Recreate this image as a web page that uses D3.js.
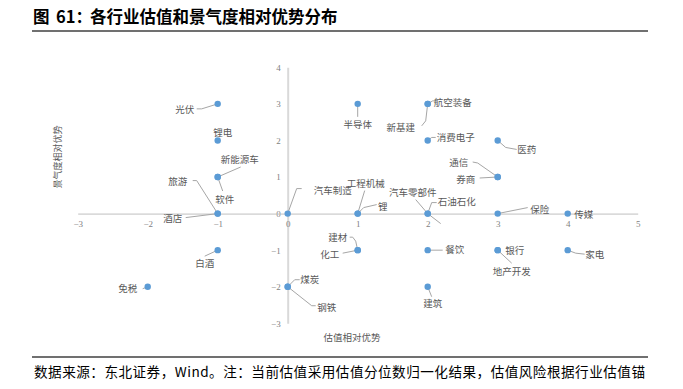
<!DOCTYPE html>
<html>
<head>
<meta charset="utf-8">
<script src="https://cdn.jsdelivr.net/npm/d3@7"></script>
<style>
  body { margin: 0; background: #fff; }
  svg { display: block; font-family: "Noto Sans CJK SC", sans-serif; }
  .tick text { font-family: "Liberation Serif", serif; fill: #7f7f7f; font-size: 9px; }
</style>
</head>
<body>
<svg id="chart" width="683" height="389"></svg>
<script>
// industries, valuation advantage (x) and prosperity advantage (y)
const industries = ["光伏", "锂电", "新能源车", "软件", "旅游", "酒店", "汽车制造", "工程机械", "锂",
  "汽车零部件", "石油石化", "半导体", "航空装备", "新基建", "消费电子", "医药", "通信", "券商", "保险",
  "传媒", "建材", "化工", "餐饮", "银行", "地产开发", "家电", "煤炭", "钢铁", "建筑", "白酒", "免税"];
const valuation = [-1, -1, -1, -1, -1, -1, 0, 1, 1, 2, 2, 1, 2, 2, 2, 3, 3, 3, 3, 4, 1, 1, 2, 3, 3, 4, 0, 0, 2, -1, -2];
const prosperity = [3, 2, 1, 1, 0, 0, 0, 0, 0, 0, 0, 3, 3, 3, 2, 2, 1, 1, 0, 0, -1, -1, -1, -1, -1, -1, -2, -2, -2, -1, -2];
const xTicks = [-3, -2, -1, 0, 1, 2, 3, 4, 5];
const yTicks = [-3, -2, -1, 0, 1, 2, 3, 4];

// label placement (px from the point) and leader line vertices
const labelOffsets = [[-33, 5], [5, -8], [22, -18], [7, 22], [-40, -33], [-45, 4], [45, -24], [8, -31], [25, -8],
  [-15, -22], [29, -13], [0, 20], [25, -2], [-27, 23], [28, -3], [29, 9], [-39, -15], [-32, 2], [42, -5],
  [16, 0], [-20, -13], [-28, 4], [27, -1], [17, 0], [14, 21], [27, 4], [22, -8], [39, 20], [5, 16], [-13, 13], [-20, 1]];
const leaders = [
  [[0, 0], [-16, 5], [-21, 5]], null, [[0, 0], [23, -10]], [[0, 0], [5, 14]],
  [[0, 0], [-21, -33], [-25, -33]], [[0, 0], [-32, 4]], [[0, 0], [9, -25], [14, -25]], [[0, 0], [7, -23]],
  [[0, 0], [6, -6], [19, -9]], [[13, 10], [0, 0], [-12, -14]], [[0, 0], [4, -11], [9, -11]], [[0, 0], [0, 13]],
  [[0, 0], [5, -3], [9, -3]], [[0, 0], [-2, 17], [-6, 22]], [[0, 0], [4, -3], [8, -3]], [[0, 0], [8, 7], [19, 9]],
  [[0, 0], [-20, -14], [-25, -15]], [[0, 0], [-18, 1]], [[0, 0], [30, -6]], null,
  [[0, 0], [-2, -9], [-5, -13], [-8, -13]], [[0, 0], [-15, 3]], [[0, 0], [15, 0]], null, [[0, 0], [14, 13]],
  [[0, 0], [8, 3], [17, 4]], [[0, 0], [7, -7], [12, -7]], [[0, 0], [24, 19], [28, 19]], [[0, 0], [4, 10]],
  [[0, 0], [-13, 6]], [[0, 0], [-5, 2]]
];

const svg = d3.select("#chart");

// title and rules
const title = svg.append("text").attr("y", 23)
  .attr("font-size", 16.5).attr("font-weight", "bold").attr("fill", "#000");
title.append("tspan").attr("x", 33).text("图");
title.append("tspan").attr("x", 56).text("61：");
title.append("tspan").attr("x", 90).text("各行业估值和景气度相对优势分布");
svg.append("line").attr("x1", 32).attr("x2", 648).attr("y1", 31).attr("y2", 31)
  .attr("stroke", "#404040").attr("stroke-width", 1.3);
svg.append("line").attr("x1", 32).attr("x2", 648).attr("y1", 357).attr("y2", 357)
  .attr("stroke", "#404040").attr("stroke-width", 1.3);
svg.append("text").attr("x", 34).attr("y", 377)
  .attr("font-size", 13.6).attr("fill", "#000")
  .attr("textLength", 611).attr("lengthAdjust", "spacing")
  .text("数据来源：东北证券，Wind。注：当前估值采用估值分位数归一化结果，估值风险根据行业估值锚");

// scales
const x = d3.scaleLinear().domain([-3, 5]).range([77.7, 637.7]);
const y = d3.scaleLinear().domain([-3, 4]).range([323.3, 67.3]);

// axes
const yAxis = svg.append("g")
  .attr("transform", `translate(${x(0)},0)`)
  .call(d3.axisLeft(y).tickValues(yTicks).tickSize(0).tickPadding(7).tickFormat(d3.format("d")));
yAxis.select(".domain").attr("stroke", "#d9d9d9").attr("stroke-width", 2);

const xAxis = svg.append("g")
  .attr("transform", `translate(0,${y(0)})`)
  .call(d3.axisBottom(x).tickValues(xTicks).tickSize(0).tickPadding(7).tickFormat(d3.format("d")));
xAxis.select(".domain").attr("stroke", "#bfbfbf").attr("stroke-width", 1);

// axis titles
svg.append("text")
  .attr("transform", `translate(61,157) rotate(-90)`)
  .attr("text-anchor", "middle").attr("font-size", 9).attr("fill", "#595959")
  .text("景气度相对优势");
svg.append("text").attr("x", 352).attr("y", 341)
  .attr("text-anchor", "middle").attr("font-size", 9.5).attr("fill", "#595959")
  .text("估值相对优势");

// leader lines
const line = d3.line();
industries.forEach((name, i) => {
  if (!leaders[i]) return;
  const px = x(valuation[i]), py = y(prosperity[i]);
  svg.append("path")
    .attr("d", line(leaders[i].map(p => [px + p[0], py + p[1]])))
    .attr("fill", "none").attr("stroke", "#a6a6a6").attr("stroke-width", 1);
});

// points
svg.selectAll("circle.pt")
  .data(industries)
  .enter()
  .append("circle")
  .attr("class", "pt")
  .attr("cx", (d, i) => x(valuation[i]))
  .attr("cy", (d, i) => y(prosperity[i]))
  .attr("r", 3.2)
  .attr("fill", "#5b9bd5");

// labels
svg.selectAll("text.lbl")
  .data(industries)
  .enter()
  .append("text")
  .attr("class", "lbl")
  .attr("x", (d, i) => x(valuation[i]) + labelOffsets[i][0])
  .attr("y", (d, i) => y(prosperity[i]) + labelOffsets[i][1])
  .attr("text-anchor", "middle")
  .attr("dominant-baseline", "central")
  .attr("font-size", 9.5)
  .attr("fill", "#595959")
  .text(d => d);
</script>
</body>
</html>
